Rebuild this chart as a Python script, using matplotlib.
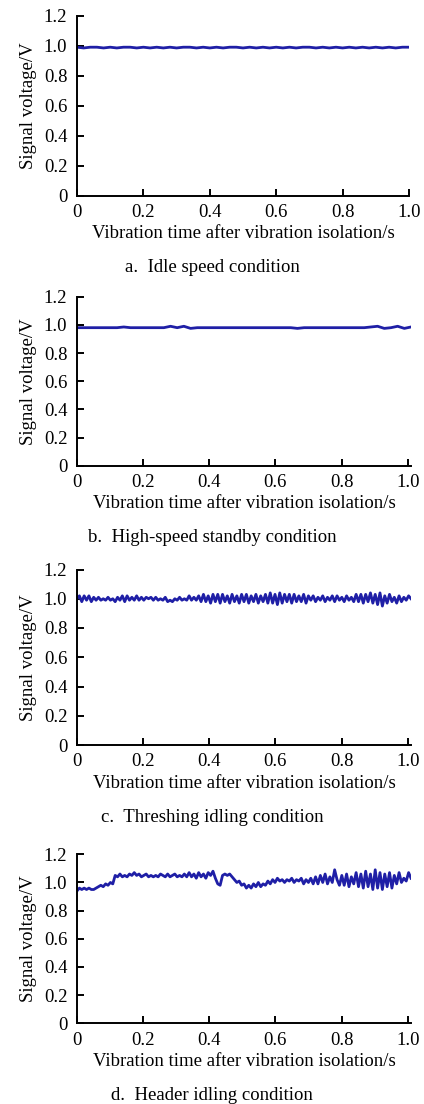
import numpy as np
import matplotlib
matplotlib.use("Agg")
import matplotlib.pyplot as plt

LINE = "#1f1fa6"

captions = [
    "a.  Idle speed condition",
    "b.  High-speed standby condition",
    "c.  Threshing idling condition",
    "d.  Header idling condition",
]

x_ticks = [0, 0.2, 0.4, 0.6, 0.8, 1.0]
x_tick_labels = ["0", "0.2", "0.4", "0.6", "0.8", "1.0"]
y_ticks = [0, 0.2, 0.4, 0.6, 0.8, 1.0, 1.2]
y_tick_labels = ["0", "0.2", "0.4", "0.6", "0.8", "1.0", "1.2"]

idle_v = [
    0.99, 0.985, 0.99, 0.99, 0.985, 0.99, 0.985, 0.99, 0.99, 0.985,
    0.99, 0.985, 0.99, 0.985, 0.99, 0.985, 0.99, 0.99, 0.985, 0.99,
    0.985, 0.99, 0.985, 0.99, 0.99, 0.985, 0.99, 0.985, 0.99, 0.985,
    0.99, 0.985, 0.99, 0.985, 0.99, 0.99, 0.985, 0.99, 0.985, 0.99,
    0.985, 0.99, 0.985, 0.99, 0.985, 0.99, 0.985, 0.99, 0.985, 0.99,
    0.99,
]
standby_v = [
    0.98, 0.98, 0.98, 0.98, 0.98, 0.98, 0.98, 0.985, 0.98, 0.98,
    0.98, 0.98, 0.98, 0.98, 0.99, 0.98, 0.99, 0.975, 0.98, 0.98,
    0.98, 0.98, 0.98, 0.98, 0.98, 0.98, 0.98, 0.98, 0.98, 0.98,
    0.98, 0.98, 0.98, 0.975, 0.98, 0.98, 0.98, 0.98, 0.98, 0.98,
    0.98, 0.98, 0.98, 0.98, 0.985, 0.99, 0.975, 0.98, 0.99, 0.975,
    0.985,
]
threshing_v = [
    1.00, 1.02, 0.98, 1.02, 0.99, 1.02, 0.98, 1.01, 0.99, 1.01,
    0.99, 1.00, 0.99, 1.01, 0.99, 1.00, 0.98, 1.01, 0.99, 1.02,
    0.98, 1.02, 0.99, 1.01, 0.99, 1.02, 0.99, 1.01, 0.99, 1.01,
    1.00, 1.01, 0.99, 1.01, 0.99, 1.00, 0.99, 1.01, 0.98, 0.99,
    0.98, 1.00, 0.99, 1.01, 0.99, 1.00, 0.99, 1.02, 0.99, 1.01,
    0.99, 1.02, 0.98, 1.03, 0.98, 1.02, 0.97, 1.03, 0.98, 1.03,
    0.97, 1.03, 0.98, 1.02, 0.97, 1.03, 0.98, 1.02, 0.97, 1.03,
    0.98, 1.03, 0.97, 1.02, 0.98, 1.03, 0.97, 1.02, 0.98, 1.03,
    0.97, 1.04, 0.97, 1.03, 0.96, 1.04, 0.97, 1.03, 0.98, 1.03,
    0.97, 1.03, 0.98, 1.02, 0.98, 1.03, 0.97, 1.02, 0.99, 1.02,
    0.98, 1.01, 0.99, 1.02, 0.98, 1.01, 0.99, 1.02, 0.98, 1.02,
    0.99, 1.01, 0.98, 1.02, 0.99, 1.01, 0.98, 1.03, 0.98, 1.03,
    0.97, 1.03, 0.98, 1.04, 0.97, 1.03, 0.96, 1.04, 0.95, 1.02,
    0.97, 1.03, 0.98, 1.01, 0.97, 1.02, 0.98, 1.01, 0.99, 1.02,
    1.00,
]
header_v = [
    0.94, 0.96, 0.95, 0.96, 0.95, 0.96, 0.95, 0.95, 0.96, 0.97,
    0.98, 0.97, 0.99, 0.98, 1.00, 0.99, 1.05, 1.04, 1.06, 1.04,
    1.05, 1.04, 1.06, 1.05, 1.07, 1.05, 1.06, 1.04, 1.05, 1.06,
    1.04, 1.05, 1.04, 1.05, 1.04, 1.06, 1.05, 1.04, 1.06, 1.04,
    1.05, 1.06, 1.04, 1.05, 1.04, 1.06, 1.04, 1.07, 1.04, 1.06,
    1.03, 1.07, 1.04, 1.06, 1.03, 1.07, 1.05, 1.08, 1.03, 0.99,
    0.98, 1.05, 1.06, 1.05, 1.06, 1.04, 1.02, 1.00, 1.01, 0.98,
    0.99, 0.96, 0.98, 0.96, 0.99, 0.97, 1.00, 0.97, 0.99, 0.98,
    1.01, 0.99, 1.02, 1.00, 1.03, 1.01, 1.02, 1.00, 1.02, 1.01,
    1.03, 1.00, 1.02, 1.01, 1.03, 0.99, 1.02, 1.00, 1.03, 0.99,
    1.04, 0.99, 1.05, 1.00, 1.06, 0.99, 1.04, 1.00, 1.09, 1.02,
    0.98, 1.05, 0.98, 1.06, 0.97, 1.04, 0.99, 1.07, 0.97, 1.06,
    0.96, 1.08, 0.97, 1.06, 0.95, 1.09, 0.96, 1.07, 0.95, 1.06,
    0.97, 1.07, 0.96, 1.05, 0.99, 1.07, 1.00, 1.03, 1.01, 1.07,
    1.03,
]
series = [idle_v, standby_v, threshing_v, header_v]
t_end = [1.0, 1.01, 1.01, 1.01]
x_max = [1.0, 1.01, 1.01, 1.01]

plt.rcParams["font.family"] = ["Liberation Serif", "DejaVu Serif"]

W, H = 424, 1104
fig = plt.figure(figsize=(W / 100, H / 100), dpi=100)

# (left px, right px at x_max, y px of 1.2, y px of 0)
boxes = [
    (77, 409, 15.7, 195.7),
    (77, 411, 296.7, 465.7),
    (77, 411, 569.5, 745.0),
    (77, 411, 854.3, 1023.3),
]
cap_y = [267, 537, 817, 1095]
FS = 13.5

for vals, te, xm, (l, r, yt, yb), cap, cy in zip(series, t_end, x_max, boxes, captions, cap_y):
    ax = fig.add_axes([l / W, 1 - yb / H, (r - l) / W, (yb - yt) / H])
    t = np.linspace(0, te, len(vals))
    ax.plot(t, vals, color=LINE, lw=2.0)
    ax.set_xlim(0, xm)
    ax.set_ylim(0, 1.2)
    ax.set_xticks(x_ticks, x_tick_labels)
    ax.set_yticks(y_ticks, y_tick_labels)
    for s in ("top", "right"):
        ax.spines[s].set_visible(False)
    for s in ("left", "bottom"):
        ax.spines[s].set_linewidth(1.4)
    ax.tick_params(direction="in", length=5, width=1.4, labelsize=FS)
    ax.tick_params(axis="x", pad=6)
    ax.tick_params(axis="y", pad=7)
    ax.set_xlabel("Vibration time after vibration isolation/s", fontsize=FS, labelpad=3)
    ax.set_ylabel("Signal voltage/V", fontsize=FS, labelpad=5)
    fig.text(0.5, 1 - cy / H, cap, ha="center", va="center", fontsize=FS)

fig.savefig("out.png", dpi=100)
